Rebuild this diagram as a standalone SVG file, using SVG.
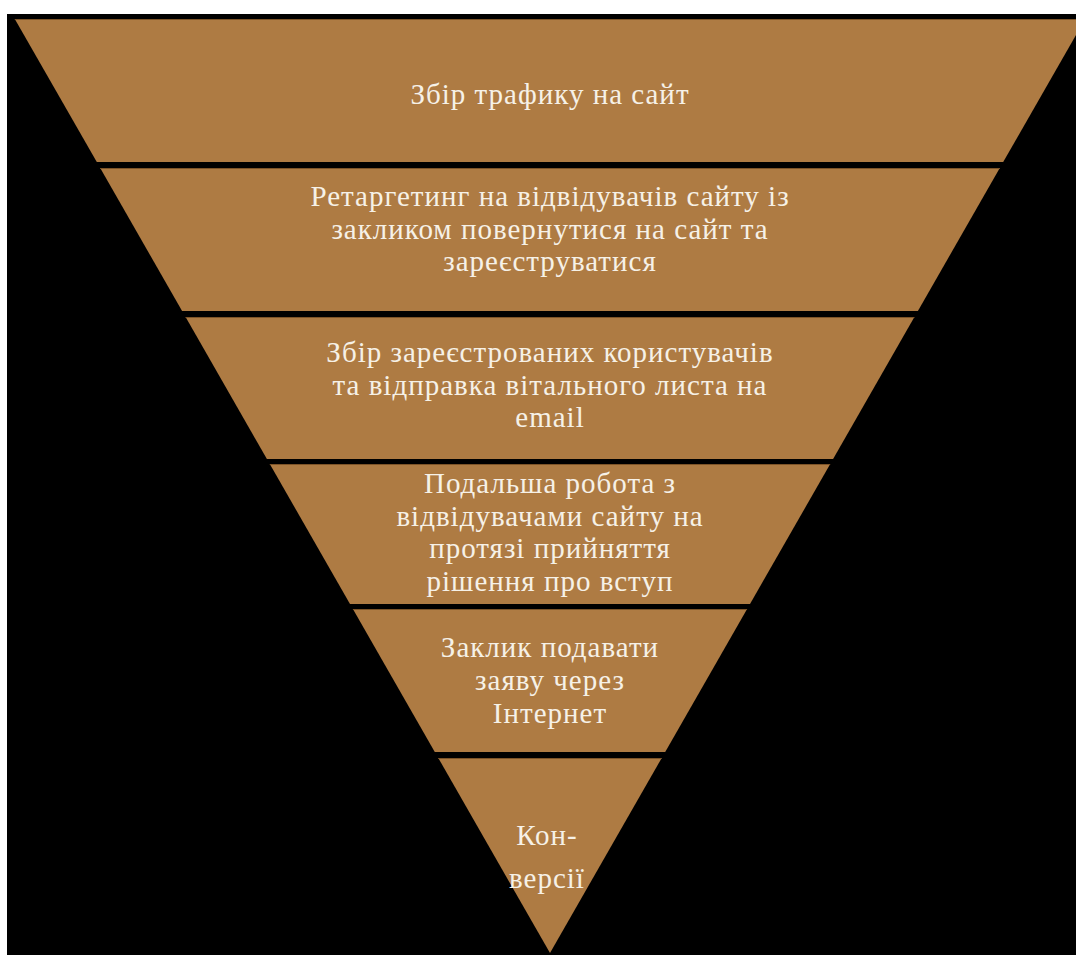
<svg xmlns="http://www.w3.org/2000/svg" width="1076" height="955" viewBox="0 0 1076 955">
  <style>
    .band { fill: #AE7B43; }
    .edge { stroke: #7E5428; stroke-width: 1; }
    .lbl { font-family: "Liberation Serif", "Times New Roman", serif; font-size: 29px; letter-spacing: 1px; fill: #F6F1E7; text-anchor: middle; }
  </style>
  <rect x="0" y="0" width="1076" height="955" fill="#FFFFFF"/>
  <rect x="7" y="14" width="1069" height="941" fill="#000000"/>
  <g id="band1">
    <polygon class="band" points="14.8,19 1085.2,19 1003.2,162 96.8,162"/>
    <line class="edge" x1="14.8" y1="19.5" x2="1076" y2="19.5"/>
    <text class="lbl" x="550" y="104">Збір трафику на сайт</text>
  </g>
  <g id="band2">
    <polygon class="band" points="100.2,168 999.8,168 917.9,311 182.1,311"/>
    <line class="edge" x1="100.2" y1="168.5" x2="999.8" y2="168.5"/>
    <text class="lbl" x="550" y="206">Ретаргетинг на відвідувачів сайту із</text>
    <text class="lbl" x="550" y="238.5">закликом повернутися на сайт та</text>
    <text class="lbl" x="550" y="271">зареєструватися</text>
  </g>
  <g id="band3">
    <polygon class="band" points="185.6,317 914.4,317 833.1,459 266.9,459"/>
    <line class="edge" x1="185.6" y1="317.5" x2="914.4" y2="317.5"/>
    <text class="lbl" x="550" y="362">Збір зареєстрованих користувачів</text>
    <text class="lbl" x="550" y="394.5">та відправка вітального листа на</text>
    <text class="lbl" x="550" y="427">email</text>
  </g>
  <g id="band4">
    <polygon class="band" points="269.8,464 830.2,464 750,604 350,604"/>
    <line class="edge" x1="269.8" y1="464.5" x2="830.2" y2="464.5"/>
    <text class="lbl" x="550" y="493">Подальша робота з</text>
    <text class="lbl" x="550" y="525.5">відвідувачами сайту на</text>
    <text class="lbl" x="550" y="558">протязі прийняття</text>
    <text class="lbl" x="550" y="590.5">рішення про вступ</text>
  </g>
  <g id="band5">
    <polygon class="band" points="352.9,609 747.1,609 665.2,752 434.8,752"/>
    <line class="edge" x1="352.9" y1="609.5" x2="747.1" y2="609.5"/>
    <text class="lbl" x="550" y="657">Заклик подавати</text>
    <text class="lbl" x="550" y="690">заяву через</text>
    <text class="lbl" x="550" y="723">Інтернет</text>
  </g>
  <g id="band6">
    <polygon class="band" points="438.3,758 661.7,758 550,953"/>
    <line class="edge" x1="438.3" y1="758.5" x2="661.7" y2="758.5"/>
    <text class="lbl" x="547" y="845">Кон-</text>
    <text class="lbl" x="547" y="888">версії</text>
  </g>
</svg>
